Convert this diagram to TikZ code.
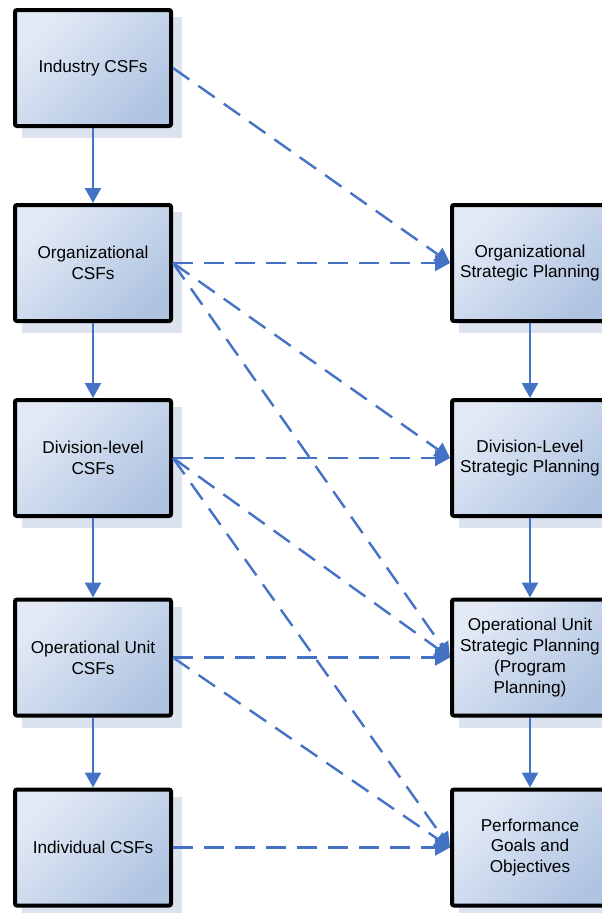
\documentclass[tikz,border=0pt]{standalone}
\usepackage{fontspec}
\setmainfont{Liberation Sans}
\usetikzlibrary{arrows.meta,backgrounds}
\definecolor{lineblue}{HTML}{4472C4}
\definecolor{boxlight}{HTML}{E3EAF6}
\definecolor{boxdark}{HTML}{B0C4E1}
\definecolor{shadowc}{HTML}{DCE3EF}
\begin{document}
\begin{tikzpicture}[x=1pt,y=-1pt,
  csfbox/.style={draw=black, line width=4pt, rounded corners=2pt,
    minimum width=156pt, minimum height=116pt, inner sep=0pt, align=center,
    font=\fontsize{17.2}{20.8}\selectfont,
    left color=boxlight, right color=boxdark, shading angle=45},
  solidarrow/.style={draw=lineblue, line width=2.4pt,
    -{Triangle[length=15pt,width=16pt]}},
  dasharrow/.style={draw=lineblue, line width=2.4pt, dash pattern=on 20pt off 11pt,
    -{Triangle[length=15pt,width=16pt]}}]
\useasboundingbox (0,0) rectangle (602,913);
\clip (0,0) rectangle (602,913);
% left column
\node[csfbox] (ind)   at (93,68)    {Industry CSFs};
\node[csfbox] (org)   at (93,263)   {Organizational\\CSFs};
\node[csfbox] (div)   at (93,458)   {Division-level\\CSFs};
\node[csfbox] (op)    at (93,657.5) {Operational Unit\\CSFs};
\node[csfbox] (indiv) at (93,847.5) {Individual CSFs};
% right column
\node[csfbox] (orgs)  at (530,263)   {Organizational\\Strategic Planning};
\node[csfbox] (divs)  at (530,458)   {Division-Level\\Strategic Planning};
\node[csfbox] (ops)   at (530,657.5) {Operational Unit\\Strategic Planning\\(Program\\Planning)};
\node[csfbox] (perf)  at (530,847.5) {Performance\\Goals and\\Objectives};
% shadows
\begin{scope}[on background layer]
  \foreach \n in {ind,org,div,op,indiv,orgs,divs,ops,perf}
    \fill[shadowc] ([shift={(9pt,-9pt)}]\n.north west) rectangle ([shift={(9pt,-10pt)}]\n.south east);
\end{scope}
% solid arrows
\draw[solidarrow] (ind) -- (org);
\draw[solidarrow] (org) -- (div);
\draw[solidarrow] (div) -- (op);
\draw[solidarrow] (op) -- (indiv);
\draw[solidarrow] (orgs) -- (divs);
\draw[solidarrow] (divs) -- (ops);
\draw[solidarrow] (ops) -- (perf);
% dashed arrows
\foreach \a/\b in {ind/orgs, org/orgs, org/divs, org/ops,
                   div/divs, div/ops, div/perf, op/ops, op/perf, indiv/perf}
  \draw[dasharrow] (\a.east) -- (\b.west);
\end{tikzpicture}
\end{document}
